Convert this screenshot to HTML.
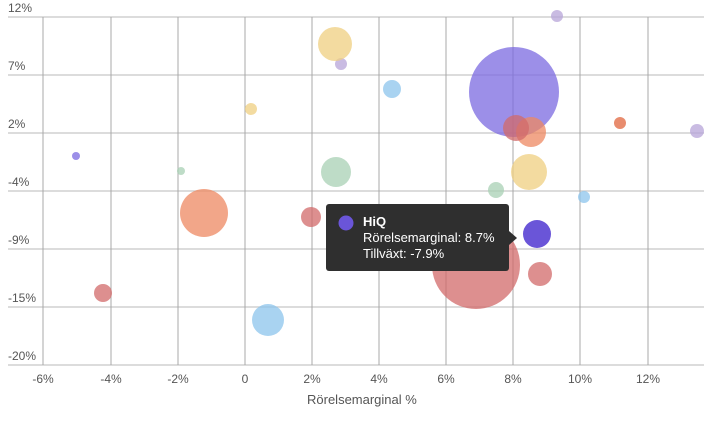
<!DOCTYPE html>
<html><head><meta charset="utf-8"><style>
body{margin:0;background:#fff;width:704px;height:416px;overflow:hidden;font-family:"Liberation Sans",sans-serif}
</style></head><body>
<svg width="704" height="416" xmlns="http://www.w3.org/2000/svg" font-family="Liberation Sans, sans-serif">
<g stroke="#c8c8c8" stroke-width="1.3">
<line x1="8" x2="704" y1="17" y2="17"/><line x1="8" x2="704" y1="75" y2="75"/><line x1="8" x2="704" y1="133" y2="133"/><line x1="8" x2="704" y1="191" y2="191"/><line x1="8" x2="704" y1="249" y2="249"/><line x1="8" x2="704" y1="307" y2="307"/><line x1="8" x2="704" y1="365" y2="365"/>
</g>
<g stroke="#a8a8a8" stroke-width="1">
<line x1="43" x2="43" y1="17" y2="365"/><line x1="111" x2="111" y1="17" y2="365"/><line x1="178" x2="178" y1="17" y2="365"/><line x1="245" x2="245" y1="17" y2="365"/><line x1="312" x2="312" y1="17" y2="365"/><line x1="379" x2="379" y1="17" y2="365"/><line x1="446" x2="446" y1="17" y2="365"/><line x1="513" x2="513" y1="17" y2="365"/><line x1="580" x2="580" y1="17" y2="365"/><line x1="648" x2="648" y1="17" y2="365"/>
</g>
<g font-size="12" fill="#555">
<text x="8" y="12">12%</text><text x="8" y="70">7%</text><text x="8" y="128">2%</text><text x="8" y="186">-4%</text><text x="8" y="244">-9%</text><text x="8" y="302">-15%</text><text x="8" y="360">-20%</text>
</g>
<g font-size="12" fill="#555" text-anchor="middle">
<text x="43" y="383">-6%</text><text x="111" y="383">-4%</text><text x="178" y="383">-2%</text><text x="245" y="383">0</text><text x="312" y="383">2%</text><text x="379" y="383">4%</text><text x="446" y="383">6%</text><text x="513" y="383">8%</text><text x="580" y="383">10%</text><text x="648" y="383">12%</text>
</g>
<text x="307" y="404" font-size="13" fill="#555">Rörelsemarginal %</text>
<g fill-opacity="0.75">
<circle cx="514" cy="92" r="45" fill="#7b6ae0"/>
<circle cx="557" cy="16" r="6" fill="#b7a4d8"/>
<circle cx="697" cy="131" r="7" fill="#b7a4d8"/>
<circle cx="341" cy="64" r="6" fill="#b7a4d8"/>
<circle cx="76" cy="156" r="4" fill="#7b6ae0"/>
<circle cx="335" cy="44" r="17" fill="#efcf80"/>
<circle cx="251" cy="109" r="6" fill="#efcf80"/>
<circle cx="392" cy="89" r="9" fill="#8cc4ec"/>
<circle cx="584" cy="197" r="6" fill="#8cc4ec"/>
<circle cx="268" cy="320" r="16" fill="#8cc4ec"/>
<circle cx="620" cy="123" r="6" fill="#e0653e"/>
<circle cx="531" cy="132" r="15" fill="#ee8862"/>
<circle cx="516" cy="128" r="13" fill="#d26a6a"/>
<circle cx="204" cy="213" r="24" fill="#ee8862"/>
<circle cx="529" cy="172" r="18" fill="#efcf80"/>
<circle cx="181" cy="171" r="4" fill="#a8d0b4"/>
<circle cx="336" cy="172" r="15" fill="#a8d0b4"/>
<circle cx="496" cy="190" r="8" fill="#a8d0b4"/>
<circle cx="311" cy="217" r="10" fill="#d26a6a"/>
<circle cx="103" cy="293" r="9" fill="#d26a6a"/>
<circle cx="476" cy="265" r="44" fill="#d26a6a"/>
<circle cx="540" cy="274" r="12" fill="#d26a6a"/>
</g>
<circle cx="537" cy="234" r="14" fill="#6a55d8"/>
<rect x="326" y="204" width="183" height="67" rx="3" fill="#2f2f2f"/>
<polygon points="509,231 517,238 509,245" fill="#2f2f2f"/>
<circle cx="346" cy="223" r="7.5" fill="#6a55d8"/>
<text x="363" y="226" font-size="13" font-weight="bold" fill="#fff">HiQ</text>
<text x="363" y="242" font-size="13" fill="#fff">Rörelsemarginal: 8.7%</text>
<text x="363" y="258" font-size="13" fill="#fff">Tillväxt: -7.9%</text>
</svg>
</body></html>
